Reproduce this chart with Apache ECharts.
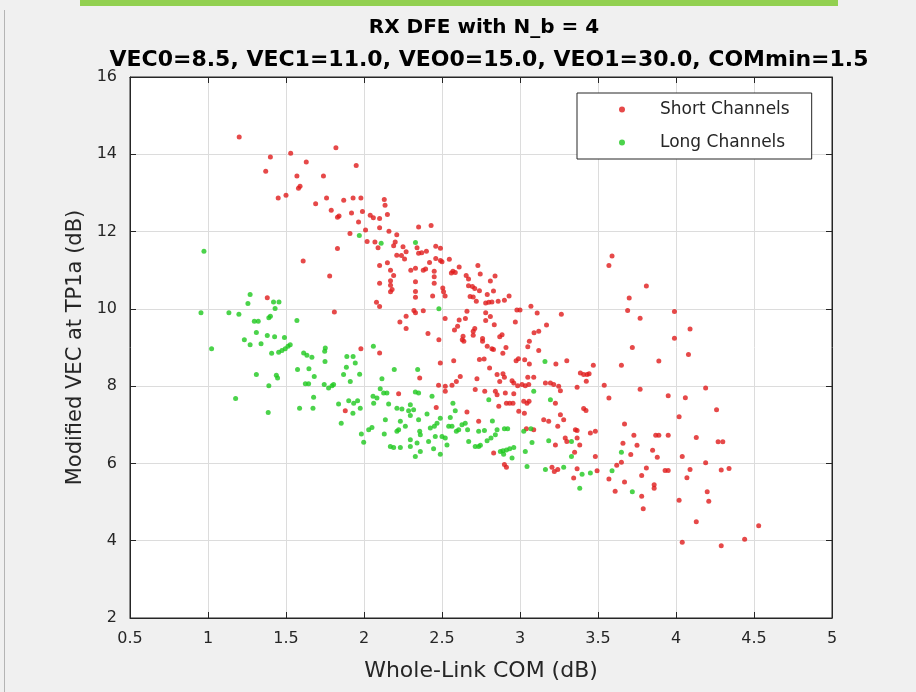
<!DOCTYPE html>
<html>
<head>
<meta charset="utf-8">
<title>RX DFE with N_b = 4</title>
<script src="https://cdn.jsdelivr.net/npm/echarts@6/dist/echarts.min.js"></script>
<style>
    html, body { margin: 0; padding: 0; background: #f0f0f0; }
    #chart { width: 916px; height: 692px; }
</style>
</head>
<body>
<div id="chart"></div>
<script>
var titleLines = ["RX DFE with N_b = 4", "VEC0=8.5, VEC1=11.0, VEO0=15.0, VEO1=30.0, COMmin=1.5"];
var seriesNames = ["Short Channels", "Long Channels"];
var xTicks = { min: 0.5, max: 5, interval: 0.5 };
var yTicks = { min: 2, max: 16, interval: 2 };

// [Whole-Link COM (dB), Modified VEC at TP1a (dB)]
var shortChannels = [
    [1.20, 14.45], [1.40, 13.93], [1.37, 13.56], [1.53, 14.03], [1.63, 13.80], [1.82, 14.17], [1.95, 13.71],
    [1.57, 13.44], [1.74, 13.44], [1.59, 13.17], [1.58, 13.12], [1.45, 12.87], [1.50, 12.94], [1.69, 12.72],
    [1.76, 12.87], [1.87, 12.81], [1.93, 12.87], [1.98, 12.87], [2.13, 12.83], [2.135, 12.68], [2.15, 12.44],
    [1.79, 12.55], [1.83, 12.37], [1.84, 12.40], [1.92, 12.48], [1.99, 12.52], [2.04, 12.42], [2.06, 12.36],
    [2.10, 12.34], [1.965, 12.25], [1.91, 11.95], [2.01, 12.04], [2.02, 11.74], [2.07, 11.73], [2.10, 12.10],
    [2.16, 12.01], [2.21, 11.92], [2.35, 12.12], [2.43, 12.16], [2.09, 11.58], [2.20, 11.73], [2.19, 11.63],
    [2.25, 11.61], [2.27, 11.48], [2.34, 11.58], [2.35, 11.44], [2.37, 11.45], [2.40, 11.49], [2.46, 11.62],
    [2.49, 11.57], [2.21, 11.39], [2.24, 11.38], [2.26, 11.29], [2.46, 11.30], [2.49, 11.25], [2.42, 11.20],
    [2.10, 11.12], [2.15, 11.19], [1.61, 11.24], [1.83, 11.56], [1.78, 10.85], [2.17, 11.00], [2.19, 10.86],
    [2.10, 10.66], [2.17, 10.73], [2.17, 10.61], [2.18, 10.50], [2.17, 10.44], [2.30, 11.00], [2.33, 11.05],
    [2.33, 10.70], [2.38, 11.00], [2.395, 11.03], [2.45, 10.97], [2.45, 10.83], [2.45, 10.66], [2.33, 10.30],
    [2.33, 10.45], [2.44, 10.33], [2.32, 9.96], [2.33, 9.90], [2.38, 9.95], [2.08, 10.17], [2.10, 10.06],
    [1.81, 9.92], [1.38, 10.29], [2.23, 9.66], [2.27, 9.81], [2.27, 9.49], [2.41, 9.36], [2.48, 9.20],
    [1.98, 8.97], [2.10, 8.86],
    [2.547, 11.285], [2.50, 11.22], [2.57, 10.97], [2.585, 10.94], [2.56, 10.93], [2.61, 11.08], [2.73, 11.12],
    [2.745, 10.90], [2.655, 10.86], [2.67, 10.77], [2.84, 10.85], [2.81, 10.72], [2.505, 10.54], [2.51, 10.44],
    [2.52, 10.33], [2.67, 10.60], [2.695, 10.58], [2.71, 10.53], [2.74, 10.47], [2.83, 10.46], [2.68, 10.32],
    [2.70, 10.31], [2.72, 10.20], [2.79, 10.37], [2.78, 10.15], [2.80, 10.17], [2.82, 10.18], [2.86, 10.20],
    [2.90, 10.22], [2.93, 10.33], [2.98, 9.97], [3.00, 9.97], [3.07, 10.07], [3.11, 9.89], [3.265, 9.86],
    [3.17, 9.58], [3.12, 9.42], [3.09, 9.38], [2.97, 9.66], [3.06, 9.16], [3.05, 9.02], [3.12, 8.92],
    [2.885, 9.33], [2.87, 9.28], [2.91, 9.00], [2.78, 9.90], [2.78, 9.70], [2.81, 9.80], [2.835, 9.59],
    [2.71, 9.49], [2.70, 9.42], [2.70, 9.32], [2.66, 9.94], [2.61, 9.71], [2.65, 9.75], [2.60, 9.55],
    [2.58, 9.45], [2.52, 9.75], [2.635, 9.29], [2.63, 9.20], [2.64, 9.16], [2.76, 9.23], [2.76, 9.16],
    [2.79, 9.03], [2.82, 8.97], [2.83, 8.95], [2.74, 8.69], [2.77, 8.70], [2.805, 8.47], [2.575, 8.66],
    [2.89, 8.85], [2.975, 8.66], [2.99, 8.71], [3.03, 8.68], [3.06, 8.57], [3.23, 8.57], [3.30, 8.66],
    [3.47, 8.54],
    [3.387, 8.34], [3.408, 8.30], [3.43, 8.30], [3.443, 8.32], [2.853, 8.30], [2.891, 8.32], [2.90, 8.23],
    [2.87, 8.12], [2.949, 8.14], [2.96, 8.08], [2.985, 8.01], [3.013, 8.04], [3.034, 8.01], [3.056, 8.04],
    [3.05, 8.23], [3.088, 8.23], [3.163, 8.08], [3.195, 8.08], [3.216, 8.04], [3.248, 7.995], [3.259, 7.88],
    [3.366, 7.97], [3.425, 8.125], [2.774, 7.87], [2.842, 7.87], [2.853, 7.78], [2.906, 7.82], [2.96, 7.80],
    [2.913, 7.56], [2.934, 7.56], [2.955, 7.56], [2.864, 7.48], [3.024, 7.61], [3.045, 7.56], [3.058, 7.61],
    [3.227, 7.56], [2.992, 7.35], [3.028, 7.30], [3.259, 7.26], [3.408, 7.42], [3.423, 7.37], [3.152, 7.13],
    [3.184, 7.09], [3.28, 7.13], [3.242, 6.96], [3.355, 6.87], [3.366, 6.85], [3.451, 6.79], [3.483, 6.83],
    [3.366, 6.66], [3.29, 6.66], [3.227, 6.48], [3.30, 6.57], [3.383, 6.48], [3.35, 6.29], [3.041, 6.90],
    [3.088, 6.87], [2.831, 6.27], [2.90, 5.97], [2.913, 5.90], [3.205, 5.90], [3.22, 5.79], [3.242, 5.84],
    [3.366, 5.86], [3.494, 5.81], [3.344, 5.62], [3.483, 6.18],
    [2.357, 8.21], [2.489, 8.60], [2.222, 7.80], [2.478, 8.02], [2.521, 8.00], [2.521, 7.87], [2.592, 8.12],
    [2.617, 8.25], [2.564, 8.02], [2.724, 8.19], [2.713, 7.91], [2.463, 7.45], [2.66, 7.33], [2.735, 7.09],
    [1.88, 7.36],
    [3.59, 11.37], [3.57, 11.12], [3.81, 10.59], [3.70, 10.28], [3.69, 9.96], [3.99, 9.93], [3.77, 9.76],
    [4.09, 9.48], [3.99, 9.24], [3.72, 9.00], [4.08, 8.82], [3.89, 8.65], [3.65, 8.54], [3.54, 8.02],
    [3.57, 7.69], [3.77, 7.92], [3.95, 7.75], [4.06, 7.70], [4.19, 7.95], [4.26, 7.39], [4.02, 7.21],
    [3.67, 7.02], [3.73, 6.73], [3.87, 6.73], [3.89, 6.73], [3.95, 6.73], [4.13, 6.67], [4.27, 6.56],
    [4.30, 6.56], [3.66, 6.52], [3.75, 6.47], [3.85, 6.34], [3.71, 6.23], [3.88, 6.16], [4.04, 6.18],
    [4.19, 6.02], [3.65, 6.03], [3.62, 5.95], [3.81, 5.88], [3.93, 5.82], [3.95, 5.82], [4.09, 5.84],
    [4.29, 5.83], [4.34, 5.87], [3.57, 5.60], [3.78, 5.69], [4.07, 5.63], [3.67, 5.52], [3.86, 5.45],
    [3.86, 5.36], [3.61, 5.28], [3.78, 5.15], [4.20, 5.27], [4.02, 5.05], [4.21, 5.02], [3.79, 4.83],
    [4.13, 4.49], [4.53, 4.39], [4.44, 4.04], [4.04, 3.96], [4.29, 3.87]
];

var longChannels = [
    [0.974, 11.49], [1.97, 11.90], [2.11, 11.70], [2.33, 11.72], [2.48, 10.00], [2.06, 9.03],
    [1.27, 10.37], [1.256, 10.14], [1.42, 10.18], [1.455, 10.18], [1.43, 10.01], [0.955, 9.90], [1.134, 9.90],
    [1.198, 9.86], [1.297, 9.68], [1.322, 9.68], [1.40, 9.81], [1.39, 9.77], [1.57, 9.70], [1.31, 9.39],
    [1.38, 9.31], [1.427, 9.28], [1.49, 9.26], [1.233, 9.20], [1.27, 9.07], [1.34, 9.10], [1.023, 8.97],
    [1.408, 8.85], [1.453, 8.88], [1.474, 8.92], [1.495, 8.97], [1.513, 9.03], [1.527, 9.07], [1.613, 8.86],
    [1.634, 8.80], [1.666, 8.75], [1.752, 8.99], [1.748, 8.90], [1.75, 8.64], [1.89, 8.77], [1.93, 8.77],
    [1.574, 8.43], [1.647, 8.45], [1.681, 8.25], [1.31, 8.30], [1.438, 8.28], [1.446, 8.21], [1.39, 8.01],
    [1.624, 8.06], [1.645, 8.06], [1.677, 7.71], [1.745, 8.04], [1.773, 7.95], [1.795, 8.01], [1.177, 7.68],
    [1.386, 7.32], [1.587, 7.43], [1.673, 7.43],
    [1.805, 8.04], [1.869, 8.30], [1.887, 8.49], [1.912, 8.12], [1.944, 8.60], [1.972, 8.31], [2.115, 8.19],
    [2.194, 8.43], [2.344, 8.43], [2.104, 7.93], [2.126, 7.82], [2.147, 7.82], [2.058, 7.74], [2.083, 7.69],
    [2.062, 7.56], [2.329, 7.85], [2.35, 7.82], [2.436, 7.74], [1.837, 7.54], [1.902, 7.62], [1.934, 7.56],
    [1.959, 7.62], [1.976, 7.43], [1.929, 7.30], [2.211, 7.43], [2.243, 7.41], [2.297, 7.52], [2.286, 7.36],
    [2.297, 7.24], [2.318, 7.39], [2.158, 7.54], [2.35, 7.13], [2.404, 7.28], [2.57, 7.56], [2.585, 7.36],
    [2.553, 7.19], [2.489, 7.17], [2.468, 7.04], [2.451, 6.96], [2.425, 6.92], [2.735, 6.83], [1.854, 7.04],
    [1.983, 6.76], [1.998, 6.55], [2.03, 6.87], [2.051, 6.93], [2.137, 7.13], [2.13, 6.76], [2.211, 6.83],
    [2.222, 6.87], [2.233, 7.09], [2.265, 6.96], [2.357, 6.83], [2.361, 6.74], [2.297, 6.61], [2.34, 6.53],
    [2.361, 6.31], [2.414, 6.57], [2.457, 6.70], [2.50, 6.70], [2.521, 6.66], [2.532, 6.48], [2.564, 6.96],
    [2.592, 6.83], [2.628, 7.00], [2.649, 7.04], [2.664, 6.87], [2.671, 6.57], [2.713, 6.44], [2.735, 6.44],
    [2.169, 6.44], [2.19, 6.41], [2.233, 6.41], [2.297, 6.44], [2.329, 6.18], [2.446, 6.38], [2.489, 6.24],
    [2.543, 6.96], [2.607, 6.87],
    [3.088, 7.87], [2.80, 7.65], [3.195, 7.65], [2.823, 7.10], [2.772, 6.85], [2.853, 6.87], [2.90, 6.90],
    [2.921, 6.90], [3.024, 6.83], [3.07, 6.90], [2.789, 6.59], [2.814, 6.66], [2.842, 6.74], [2.746, 6.47],
    [2.874, 6.31], [2.891, 6.33], [2.913, 6.35], [2.934, 6.38], [2.96, 6.41], [2.895, 6.24], [2.949, 6.14],
    [3.034, 6.31], [3.045, 5.92], [3.163, 5.84], [3.184, 6.59], [3.33, 6.57], [3.33, 6.18], [3.077, 6.54],
    [3.28, 5.90], [3.398, 5.72], [3.451, 5.75], [3.383, 5.36], [3.16, 8.64],
    [3.65, 6.29], [3.59, 5.81], [3.72, 5.27]
];

var FONT = "'DejaVu Sans', 'Liberation Sans', sans-serif";
var INK = "#262626";

var chart = echarts.init(document.getElementById("chart"), null, { renderer: "canvas" });

function boxAxis(ticks, position, withLabels) {
    return {
        type: "value",
        position: position,
        min: ticks.min,
        max: ticks.max,
        interval: ticks.interval,
        axisLine: { show: true, lineStyle: { color: INK, width: 1 } },
        axisTick: { show: true, inside: true, length: 6, lineStyle: { color: INK } },
        axisLabel: {
            show: withLabels,
            color: INK,
            fontFamily: FONT,
            fontSize: 16,
            margin: 13
        },
        splitLine: { show: withLabels, lineStyle: { color: "#dcdcdc", width: 1 } }
    };
}

var xBottom = boxAxis(xTicks, "bottom", true);
xBottom.name = "Whole-Link COM (dB)";
xBottom.nameLocation = "middle";
xBottom.nameGap = 42;
xBottom.nameTextStyle = { color: INK, fontFamily: FONT, fontSize: 22 };

var yLeft = boxAxis(yTicks, "left", true);
yLeft.name = "Modified VEC at TP1a (dB)";
yLeft.nameLocation = "middle";
yLeft.nameGap = 35;
yLeft.nameTextStyle = { color: INK, fontFamily: FONT, fontSize: 21 };

var option = {
    backgroundColor: "#f0f0f0",
    animation: false,
    textStyle: { fontFamily: FONT },
    graphic: [
        { type: "rect", shape: { x: 80, y: 0, width: 758, height: 6 }, style: { fill: "#92d050" } },
        { type: "line", shape: { x1: 4.5, y1: 10, x2: 4.5, y2: 692 }, style: { stroke: "#b4b4b4", lineWidth: 1 } }
    ],
    title: [
        {
            text: titleLines[0],
            left: 479,
            top: 13,
            textAlign: "center",
            textStyle: { color: "#000", fontFamily: FONT, fontSize: 20, fontWeight: "bold" }
        },
        {
            text: titleLines[1],
            left: 484,
            top: 44,
            textAlign: "center",
            textStyle: { color: "#000", fontFamily: FONT, fontSize: 22, fontWeight: "bold" }
        }
    ],
    legend: {
        data: seriesNames,
        orient: "vertical",
        left: 577,
        top: 93,
        padding: [8, 22, 8, 42],
        itemGap: 16,
        itemWidth: 6,
        itemHeight: 6,
        icon: "circle",
        backgroundColor: "#ffffff",
        borderColor: INK,
        borderWidth: 1,
        borderRadius: 0,
        textStyle: { color: INK, fontFamily: FONT, fontSize: 17, padding: [0, 0, 0, 30] }
    },
    grid: {
        left: 130,
        right: 84,
        top: 77,
        bottom: 74,
        show: true,
        backgroundColor: "#ffffff",
        borderColor: INK,
        borderWidth: 1
    },
    xAxis: [xBottom, boxAxis(xTicks, "top", false)],
    yAxis: [yLeft, boxAxis(yTicks, "right", false)],
    series: [
        {
            name: seriesNames[0],
            type: "scatter",
            xAxisIndex: 0,
            yAxisIndex: 0,
            symbol: "circle",
            symbolSize: 5,
            itemStyle: { color: "#e01b1b" },
            data: shortChannels
        },
        {
            name: seriesNames[1],
            type: "scatter",
            xAxisIndex: 0,
            yAxisIndex: 0,
            symbol: "circle",
            symbolSize: 5,
            itemStyle: { color: "#1ec81e" },
            data: longChannels
        }
    ]
};

chart.setOption(option);
</script>
</body>
</html>
